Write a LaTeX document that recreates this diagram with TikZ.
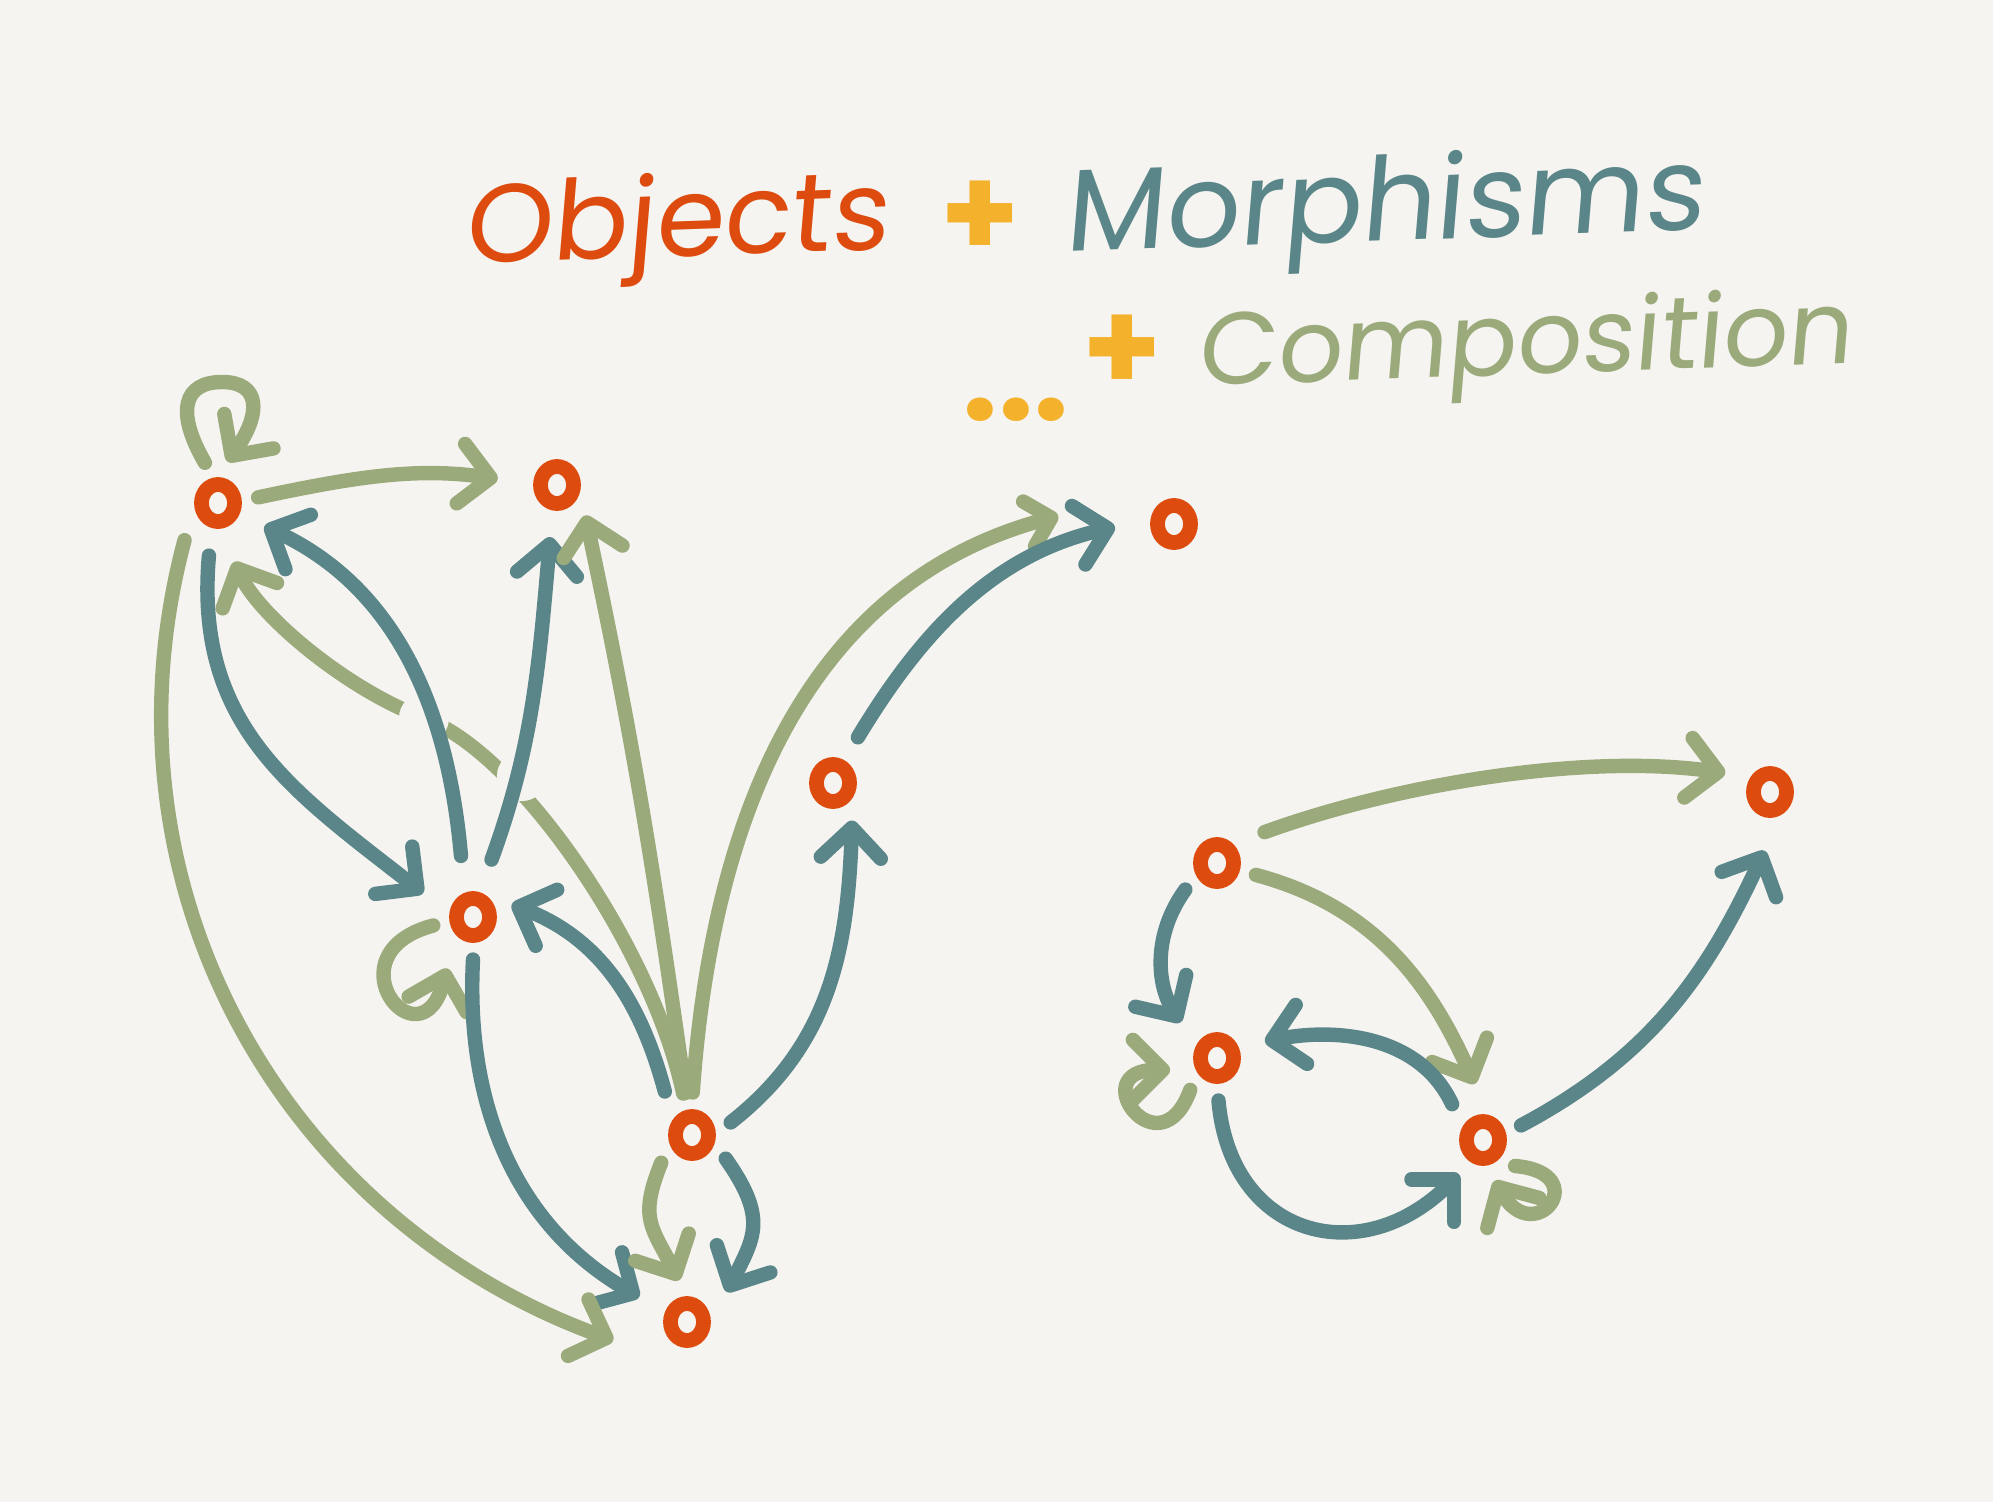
\documentclass[tikz,border=0pt]{standalone}
\usepackage{fontspec}
\setmainfont{Poppins}
\newfontfamily\handfont{Poppins}[FakeSlant=0.12]
\usepackage{tikz}
\usetikzlibrary{arrows.meta,shapes.geometric}
\definecolor{paper}{HTML}{F5F4F0}
\definecolor{objcol}{HTML}{DD4C0E}
\definecolor{morcol}{HTML}{5A8689}
\definecolor{compcol}{HTML}{9BAA7B}
\definecolor{pluscol}{HTML}{F4B22C}

\begin{document}
\begin{tikzpicture}[x=0.01cm,y=0.01cm,
  obj/.style={ellipse,draw=objcol,line width=4.2pt,minimum width=0.33cm,minimum height=0.37cm,inner sep=0pt,outer sep=0.24cm},
  mor/.style={draw=morcol,line width=4.1pt,line cap=round,-{Straight Barb[round,length=3mm,width=6mm]}},
  comp/.style={mor,draw=compcol},
  ttl/.style={inner sep=0pt,anchor=base west,rotate=2,font=\handfont\fontsize{33}{40}\selectfont},
  plus/.style={text=pluscol,inner sep=0pt,font=\fontsize{36}{36}\selectfont\bfseries}]
\fill[paper] (0,0) rectangle (1993,-1502);

\node[ttl,text=objcol,font=\handfont\fontsize{31.5}{40}\selectfont] (objects) at (464,-264) {Objects};
\node[plus] (plusone) at (980,-219) {+};
\node[ttl,text=morcol] (morphisms) at (1064,-252) {Morphisms};
\node[plus,anchor=base] (dots) at (1016,-420) {...};
\node[plus] (plustwo) at (1122,-353) {+};
\node[ttl,text=compcol,font=\handfont\fontsize{29}{36}\selectfont] (composition) at (1197,-386) {Composition};

\node[obj] (A) at (218,-503) {};
\node[obj] (B) at (557,-485) {};
\node[obj] (C) at (473,-917) {};
\node[obj] (D) at (692,-1135) {};
\node[obj] (E) at (687,-1322) {};
\node[obj] (F) at (833,-783) {};
\node[obj] (G) at (1174,-524) {};
\node[obj] (H) at (1217,-863) {};
\node[obj] (I) at (1770,-792) {};
\node[obj] (J) at (1217,-1058) {};
\node[obj] (K) at (1483,-1140) {};

\coordinate (gapone) at (424,-718);
\coordinate (gaptwo) at (522,-776);
\draw[comp,shorten >=0.19cm] (D.102) .. controls +(102:150) and +(-20:100) .. (gapone) .. controls +(160:80) and +(-65:80) .. (A.-79);
\fill[paper] (gapone) circle (0.25cm);
\fill[paper] (gaptwo) circle (0.25cm);

\draw[comp] (A.108) .. controls +(120:60) and +(180:38) .. (222,-382) .. controls +(0:38) and +(55:60) .. (A.77);
\draw[comp,shorten >=0.19cm] (A.8) to[out=12,in=172] (B.175);
\draw[mor,shorten <=0.2cm,shorten >=0.11cm] (C.104) to[out=95,in=-25] (A.-27);
\draw[mor,shorten <=0.11cm,shorten >=0.15cm] (A.-101) to[out=-95,in=142,looseness=1.1] (C.159);
\draw[mor,shorten <=0.18cm,shorten >=0.1cm] (C.73) to[out=70,in=-95] (B.-98);
\draw[comp] (D.99) to[out=98,in=-78] (B.-47);
\draw[comp,-{Straight Barb[round,length=2.3mm,width=4.6mm]}] (D.89) to[out=86,in=195] ([shift={(176:116)}]G.center);
\draw[mor,shorten <=0.1cm,shorten >=0.19cm] (F.62) to[out=59,in=193] (G.178);
\draw[mor] (D.18) to[out=38,in=-92] (F.-63);
\draw[mor,shorten <=0.1cm] (D.126) to[out=105,in=-21] (C.18);
\draw[comp,shorten >=0.16cm] (C.192) .. controls +(195:110) and +(-105:120) .. (C.239);
\draw[mor,shorten >=0.13cm] (C.-90) to[out=-93,in=150] (E.153);
\draw[comp] ([shift={(228:50)}]A.center) to[out=-105,in=160] ([shift={(194:76)}]E.center);
\draw[comp] (D.222) to[out=248,in=117,looseness=1.3] (E.101);
\draw[mor,shorten >=0.1cm] (D.-35) to[out=-55,in=63,looseness=1.3] (E.31);

\draw[comp,shorten <=0.16cm,shorten >=0.08cm] (H.38) to[out=20,in=172,looseness=0.8] (I.154);
\draw[mor,shorten >=0.1cm] (H.220) to[out=234,in=122] (J.139);
\draw[comp,shorten >=0.15cm] (H.-17) to[out=-15,in=114] (K.93);
\draw[mor,shorten <=0.06cm,shorten >=0.1cm] (K.133) to[out=115,in=11] (J.21);
\draw[mor] (J.-88) to[out=-85,in=225,looseness=1.4] (K.235);
\draw[comp,shorten >=0.08cm] (J.230) .. controls +(250:90) and +(180:95) .. (J.197);
\draw[comp] (K.-39) .. controls +(-5:80) and +(-60:80) .. (K.-74);
\draw[mor,shorten >=0.18cm] (K.21) to[out=28,in=245] (I.-87);
\end{tikzpicture}
\end{document}
